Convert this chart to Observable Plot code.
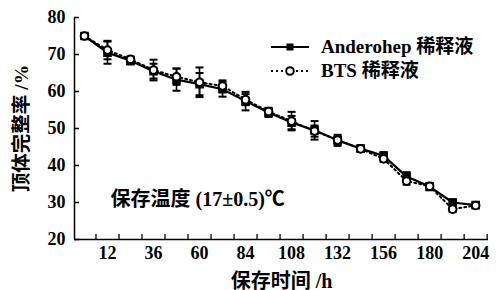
<!DOCTYPE html>
<html><head><meta charset="utf-8">
<script src="https://cdn.jsdelivr.net/npm/d3@7"></script>
<script src="https://cdn.jsdelivr.net/npm/@observablehq/plot@0.6"></script>
<style>
body{margin:0;background:#fff;}
#wrap{position:relative;width:499px;height:290px;}
.legend{position:absolute;left:270px;top:35px;font:bold 19px "Liberation Serif","Noto Sans CJK SC",serif;color:#000;line-height:24px;}
.legend div{display:flex;align-items:center;white-space:nowrap;}
.legend svg{margin-right:11px;}
</style></head><body><div id="wrap"></div><script>
const hours = [0,12,24,36,48,60,72,84,96,108,120,132,144,156,168,180,192,204];
const anderohep   = [75.0,70.5,68.3,65.5,63.2,62.0,60.6,57.4,54.3,51.6,49.5,46.8,44.6,42.6,37.0,34.3,30.0,29.3];
const anderohepSD = [0.5,3.0,1.0,2.0,3.0,3.0,2.0,2.5,1.2,1.8,2.5,1.5,0.8,1.0,1.2,1.0,0.8,0.6];
const bts         = [75.0,71.2,68.7,65.8,64.0,62.5,61.5,57.8,54.6,52.0,49.3,46.9,44.5,41.8,35.8,34.4,28.2,29.2];
const btsSD       = [0.5,2.5,0.8,2.8,2.2,4.0,1.5,1.5,1.0,2.5,1.5,1.0,0.8,0.8,1.0,0.8,0.8,0.6];
const seriesNames = ["Anderohep 稀释液","BTS 稀释液"];
const xLabelTicks = [12,36,60,84,108,132,156,180,204];
const xMinorTicks = [6,18,30,42,54,66,78,90,102,114,126,138,150,162,174,186,198,210];
const yTicks = [20,30,40,50,60,70,80];
const xDomain = [-5.2,210.7];
const yDomain = [20,80];
const xTitle = "保存时间 /h";
const yTitle = "顶体完整率 /%";
const note = "保存温度 (17±0.5)℃";

const A = hours.map((h,i)=>({h, v:anderohep[i], lo:anderohep[i]-anderohepSD[i], hi:anderohep[i]+anderohepSD[i]}));
const B = hours.map((h,i)=>({h, v:bts[i], lo:bts[i]-btsSD[i], hi:bts[i]+btsSD[i]}));
const cap = {draw(ctx,size){const w=Math.sqrt(size)/2;ctx.moveTo(-w,0);ctx.lineTo(w,0);}};
const font = '"Liberation Serif","Noto Sans CJK SC",serif';

const chart = Plot.plot({
  width:499, height:290,
  marginLeft:74, marginRight:11, marginTop:17, marginBottom:51,
  style:{fontFamily:font, fontSize:"18px", fontWeight:"bold", color:"#000", background:"#fff"},
  x:{domain:xDomain},
  y:{domain:yDomain},
  marks:[
    Plot.ruleX([xDomain[0]],{stroke:"#000",strokeWidth:1.5}),
    Plot.ruleY([yDomain[0]],{stroke:"#000",strokeWidth:1.5}),
    Plot.axisY({ticks:yTicks, tickSize:-5, tickPadding:14, strokeWidth:1.5, label:null, fontSize:18}),
    Plot.axisY({ticks:[], label:yTitle, labelAnchor:"center", labelOffset:60, labelArrow:"none", fontSize:19.5}),
    Plot.axisX({ticks:xMinorTicks, tickSize:-5, tickFormat:()=>"" , strokeWidth:1.3, label:null}),
    Plot.axisX({ticks:xLabelTicks, tickSize:0, tickPadding:7, label:null, fontSize:18}),
    Plot.axisX({ticks:[], label:xTitle, labelAnchor:"center", labelOffset:48, labelArrow:"none", fontSize:20}),
    Plot.text([note],{frameAnchor:"left", dx:36, dy:71, textAnchor:"start", fontSize:20, fontWeight:"bold"}),
    Plot.line(B,{x:"h",y:"v",stroke:"#000",strokeWidth:2,strokeDasharray:"2,3"}),
    Plot.line(A,{x:"h",y:"v",stroke:"#000",strokeWidth:2.2}),
    Plot.ruleX(A,{x:"h",y1:"lo",y2:"hi",stroke:"#000",strokeWidth:1.6}),
    Plot.ruleX(B,{x:"h",y1:"lo",y2:"hi",stroke:"#000",strokeWidth:1.6}),
    Plot.dot(A,{x:"h",y:"lo",symbol:cap,r:4.5,stroke:"#000",strokeWidth:2}),
    Plot.dot(A,{x:"h",y:"hi",symbol:cap,r:4.5,stroke:"#000",strokeWidth:2}),
    Plot.dot(B,{x:"h",y:"lo",symbol:cap,r:4.5,stroke:"#000",strokeWidth:2}),
    Plot.dot(B,{x:"h",y:"hi",symbol:cap,r:4.5,stroke:"#000",strokeWidth:2}),
    Plot.dot(A,{x:"h",y:"v",symbol:"square",r:4,fill:"#000",stroke:"#000"}),
    Plot.dot(B,{x:"h",y:"v",symbol:"circle",r:3.8,fill:"#fff",stroke:"#000",strokeWidth:2})
  ]
});
const wrap = document.getElementById("wrap");
wrap.appendChild(chart);
const leg = document.createElement("div");
leg.className = "legend";
leg.innerHTML = `
<div><svg width="40" height="14"><line x1="1" x2="39" y1="7" y2="7" stroke="#000" stroke-width="2.2"/><rect x="16.5" y="3.5" width="7" height="7" fill="#000"/></svg><span>${seriesNames[0]}</span></div>
<div><svg width="40" height="14"><line x1="1" x2="39" y1="7" y2="7" stroke="#000" stroke-width="2" stroke-dasharray="2,3"/><circle cx="20" cy="7" r="3.8" fill="#fff" stroke="#000" stroke-width="2"/></svg><span>${seriesNames[1]}</span></div>`;
wrap.appendChild(leg);
</script></body></html>
